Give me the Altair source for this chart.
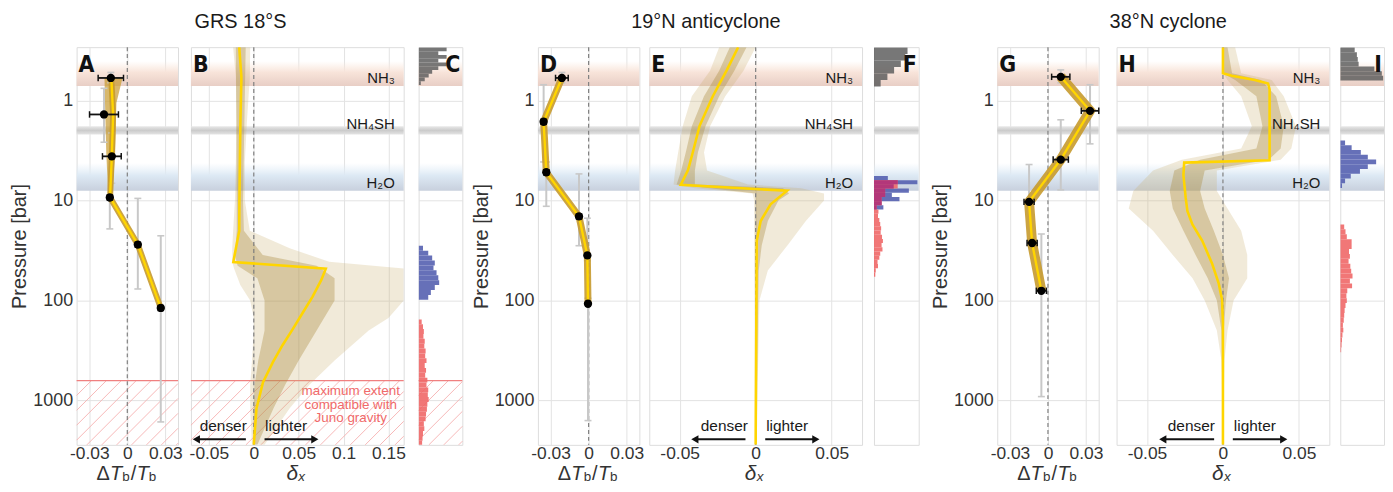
import altair as alt
import numpy as np
import pandas as pd

FONT = "Liberation Sans, Arial, Helvetica, sans-serif"
LETTER_FONT = "Liberation Sans Narrow, DejaVu Sans Condensed, Liberation Sans, sans-serif"

# ------------------------------------------------------------------ data
P_DOMAIN = [0.29, 2800]
P_TICKS = [1, 10, 100, 1000]

cloud_names = ["NH₃", "NH₄SH", "H₂O"]
cloud_top = [0.40, 1.80, 4.2]
cloud_bot = [0.71, 2.18, 7.95]
cloud_label_p = [0.59, 1.72, 6.6]

gravity_limit_p = 635
gravity_text = ["maximum extent", "compatible with", "Juno gravity"]
gravity_text_p = [889, 1222, 1664]
gravity_text_x = 0.108

arrow_words = ["denser", "lighter"]
arrow_text_p = 2030
arrow_p = 2467

group_titles = ["GRS 18°S", "19°N anticyclone", "38°N cyclone"]

# --- GRS 18°S
grs_tb_p = [0.59, 1.37, 3.6, 9.3, 27.6, 119]
grs_tb = [-0.013, -0.0184, -0.0122, -0.0138, 0.0083, 0.0264]
grs_tb_err = [0.010, 0.0114, 0.0074, 0.002, 0.002, 0.002]
grs_tb_plo = [0.52, 0.75, 2.1, 9.5, 9.5, 22.5]
grs_tb_phi = [0.66, 2.6, 6.7, 19.2, 76.8, 1650]
grs_fit_p = [0.59, 1.37, 3.6, 9.3, 27.6, 119]
grs_fit = [-0.0126, -0.0112, -0.0122, -0.0136, 0.0083, 0.0264]
grs_fit_env_p = [0.59, 1.05, 3.3, 8.1, 9.3]
grs_fit_env_lo = [-0.018, -0.0176, -0.0166, -0.0152, -0.0150]
grs_fit_env_hi = [-0.0038, -0.0086, -0.0096, -0.0118, -0.0122]

grs_dx_p = [0.29, 0.58, 1.65, 4.1, 10.1, 20.1, 41.2, 48.0, 62.7, 91.5, 130, 194, 281, 416, 660, 1210, 2800]
grs_dx = [-0.0162, -0.0138, -0.0149, -0.0155, -0.016, -0.0162, -0.0228, 0.0802, 0.0751, 0.0655,
          0.0552, 0.0434, 0.032, 0.0213, 0.0103, 0.003, 0.0]
grs_env_p = [0.29, 0.58, 1.65, 4.1, 10, 20, 30, 41, 48, 70, 100, 150, 200, 400, 700, 1200, 2800]
grs_env_lo = [-0.023, -0.020, -0.019, -0.020, -0.021, -0.023, -0.024, -0.024, -0.022, -0.015,
              -0.004, 0.0, 0.0, -0.002, -0.004, -0.004, -0.002]
grs_env_hi = [-0.004, -0.0044, -0.0077, -0.010, -0.010, -0.0044, 0.040, 0.084, 0.167, 0.167,
              0.167, 0.150, 0.128, 0.090, 0.062, 0.040, 0.012]
grs_core_p = [0.29, 10, 20, 35, 45, 60, 100, 200, 400, 700, 1200, 2800]
grs_core_lo = [-0.020, -0.019, -0.019, -0.021, -0.018, 0.004, 0.012, 0.012, 0.005, 0.001, 0.0, 0.0]
grs_core_hi = [-0.009, -0.012, -0.011, 0.010, 0.070, 0.090, 0.090, 0.070, 0.050, 0.035, 0.022, 0.004]

grs_gray_range = [0.293, 0.695]
grs_gray = [0.64, 0.45, 0.64, 0.45, 0.64, 0.45, 0.31, 0.23, 0.14, 0.05]
grs_blue_range = [28.3, 98.7]
grs_blue = [0.10, 0.22, 0.31, 0.37, 0.34, 0.41, 0.45, 0.47, 0.37, 0.28, 0.22]
grs_red_range = [155, 2851]
grs_red = [0.07, 0.10, 0.12, 0.11, 0.14, 0.13, 0.16, 0.15, 0.18, 0.14, 0.17, 0.15, 0.20,
           0.18, 0.22, 0.21, 0.23, 0.20, 0.19, 0.17, 0.16, 0.12, 0.13, 0.10, 0.09, 0.08]

# --- 19°N anticyclone
an_tb_p = [0.59, 1.62, 5.2, 14.4, 35.4, 108]
an_tb = [-0.0211, -0.0355, -0.0334, -0.0076, -0.001, -0.0005]
an_tb_err = [0.005, 0.002, 0.002, 0.002, 0.0015, 0.0015]
an_tb_plo = [0.52, 0.69, 4.1, 5.4, 15, 95]
an_tb_phi = [0.66, 4.1, 11.4, 28.3, 40, 1600]
an_fit_p = [0.59, 1.62, 5.2, 14.4, 35.4, 108]
an_fit = [-0.0211, -0.0355, -0.0334, -0.0076, -0.001, -0.0005]

an_dx_p = [0.29, 0.49, 0.90, 1.78, 3.26, 4.95, 6.95, 7.96, 10.9, 16.0, 25.3, 2800]
an_dx = [-0.0115, -0.0189, -0.0282, -0.0369, -0.0413, -0.0445, -0.0493, 0.0207, 0.0098, 0.0033, 0.0007, 0.0]
an_env_p = [0.29, 0.5, 0.9, 1.8, 3.3, 5.0, 6.9, 7.5, 8.5, 10, 16, 28, 50, 100, 2800]
an_env_lo = [-0.024, -0.030, -0.042, -0.048, -0.051, -0.053, -0.054, -0.040, -0.002, -0.001,
             -0.001, -0.001, -0.001, -0.0008, -0.0005]
an_env_hi = [0.0, -0.008, -0.020, -0.030, -0.034, -0.032, -0.005, 0.030, 0.045, 0.045, 0.033,
             0.021, 0.008, 0.0025, 0.0005]
an_core_p = [0.29, 0.5, 0.9, 1.8, 3.3, 5.0, 6.9, 7.5, 8.5, 10, 16, 28, 50, 2800]
an_core_lo = [-0.017, -0.024, -0.034, -0.042, -0.046, -0.049, -0.052, -0.030, 0.0, 0.0, 0.0, 0.0, 0.0, 0.0]
an_core_hi = [-0.006, -0.014, -0.024, -0.033, -0.038, -0.040, -0.040, 0.018, 0.022, 0.015, 0.008,
              0.004, 0.002, 0.0003]

an_gray_range = [0.293, 0.72]
an_gray = [0.75, 0.70, 0.60, 0.45, 0.30, 0.15]
an_grid_range = [5.66, 57.8]
an_blue = [0.31, 0.97, 0.44, 0.78, 0.40, 0.57, 0.17, 0.21, 0, 0, 0, 0, 0, 0, 0, 0, 0, 0, 0, 0, 0, 0, 0, 0]
an_red = [0, 0.53, 0.53, 0.25, 0.25, 0.17, 0.17, 0.06, 0.10, 0.09, 0.12, 0.14, 0.16, 0.15, 0.18,
          0.20, 0.17, 0.19, 0.14, 0.12, 0.08, 0.09, 0.04, 0.03]

# --- 38°N cyclone
cy_tb_p = [0.575, 1.26, 3.88, 10.3, 26.6, 80.1]
cy_tb = [0.0101, 0.0332, 0.0101, -0.0149, -0.0125, -0.0052]
cy_tb_err = [0.0072, 0.0069, 0.006, 0.004, 0.004, 0.004]
cy_tb_plo = [0.49, 0.69, 1.55, 4.35, 24, 21.6]
cy_tb_phi = [0.66, 2.7, 7.8, 10.1, 29, 920]
cy_fit_p = [0.575, 1.26, 3.88, 10.3, 26.6, 80.1]
cy_fit = [0.0101, 0.0332, 0.0101, -0.0149, -0.0125, -0.0052]

cy_dx_p = [0.29, 0.53, 0.56, 0.62, 0.67, 0.77, 3.94, 4.16, 5.55, 9.4, 12.7, 17.3, 25.3, 42.9, 67.6, 98.5, 168, 2800]
cy_dx = [0.0, 0.0, 0.0058, 0.021, 0.0297, 0.0307, 0.0307, -0.0255, -0.026, -0.0245, -0.0234,
         -0.0201, -0.0136, -0.0071, -0.0028, -0.0006, 0.0, 0.0]
cy_env_p = [0.29, 0.53, 0.62, 0.9, 1.8, 3.0, 3.9, 5, 8, 12, 20, 35, 60, 100, 200, 400, 2800]
cy_env_lo = [0.0, 0.0, 0.003, 0.012, 0.019, 0.012, -0.027, -0.046, -0.059, -0.062, -0.046, -0.033,
             -0.020, -0.012, -0.004, -0.001, 0.0]
cy_env_hi = [0.008, 0.012, 0.032, 0.040, 0.048, 0.045, 0.038, -0.004, -0.004, 0.003, 0.012, 0.016,
             0.016, 0.007, 0.003, 0.001, 0.0]
cy_core_p = [0.29, 0.53, 0.62, 0.9, 1.8, 3.0, 3.9, 5, 8, 12, 20, 35, 60, 100, 200, 2800]
cy_core_lo = [0.0, 0.0, 0.008, 0.022, 0.026, 0.022, -0.015, -0.032, -0.035, -0.033, -0.026, -0.018,
              -0.010, -0.004, -0.001, 0.0]
cy_core_hi = [0.003, 0.006, 0.025, 0.035, 0.040, 0.038, 0.030, -0.012, -0.015, -0.012, -0.006, 0.0,
              0.004, 0.002, 0.0005, 0.0]

cy_gray_range = [0.293, 0.627]
cy_gray = [0.33, 0.38, 0.40, 0.42, 0.78, 0.95, 0.98]
cy_blue_range = [2.50, 7.48]
cy_blue = [0.11, 0.26, 0.47, 0.63, 0.82, 0.63, 0.45, 0.24, 0.11, 0.04]
cy_red_range = [17.3, 331]
cy_red = [0.09, 0.12, 0.15, 0.26, 0.26, 0.20, 0.22, 0.19, 0.23, 0.25, 0.28, 0.22, 0.27, 0.16,
          0.14, 0.15, 0.12, 0.10, 0.09, 0.08, 0.06, 0.07, 0.05, 0.04, 0.03, 0.02]

# ------------------------------------------------------------------ style
H = 400
W_TB, W_DX = 102, 214
GRID = "#e3e3e3"
YELLOW = "#ffd500"
GOLD = "#c79a2e"
HATCH_STEP = 15
XTITLE_DY = 35        # x-axis title baseline below plot bottom (px)
Y_SCALE = alt.Scale(type="log", domain=P_DOMAIN, reverse=True, nice=False)

BAND_FILLS = [
    alt.LinearGradient(gradient="linear", x1=0, x2=0, y1=0, y2=1, stops=[
        alt.GradientStop(color="rgba(250,232,220,0)", offset=0),
        alt.GradientStop(color="#f8e4da", offset=0.45),
        alt.GradientStop(color="#e8cec5", offset=1)]),
    alt.LinearGradient(gradient="linear", x1=0, x2=0, y1=0, y2=1, stops=[
        alt.GradientStop(color="#e8e8e8", offset=0),
        alt.GradientStop(color="#cbcbcb", offset=0.5),
        alt.GradientStop(color="#e5e5e5", offset=1)]),
    alt.LinearGradient(gradient="linear", x1=0, x2=0, y1=0, y2=1, stops=[
        alt.GradientStop(color="rgba(226,238,248,0)", offset=0),
        alt.GradientStop(color="#dde9f4", offset=0.45),
        alt.GradientStop(color="#c8d0dd", offset=1)]),
]

LABEL_EXPR = ("datum.value == 0 ? '0' : (datum.value < 0 ? '-' : '') + "
              "format(abs(datum.value), '~g')")


def y_axis(left):
    if left:
        return alt.Axis(values=P_TICKS, format="d", title="Pressure [bar]", grid=True, gridColor=GRID,
                        ticks=False, domain=False, labelFontSize=18, labelFont=FONT, labelColor="#333",
                        labelPadding=4, titleFontSize=20, titleFont=FONT, titleFontWeight="normal",
                        titleColor="#333", titlePadding=3)
    return alt.Axis(values=P_TICKS, labels=False, ticks=False, domain=False, title=None,
                    grid=True, gridColor=GRID)


def x_axis(values):
    return alt.Axis(values=values, grid=True, gridColor=GRID, ticks=False, domain=False, title=None,
                    labelExpr=LABEL_EXPR, labelFontSize=17.5, labelFont=FONT, labelColor="#333",
                    labelPadding=0, labelFlush=False, labelOverlap=False)


class Panel:
    def __init__(self, xdom, width, xaxis, left):
        self.xdom = xdom
        self.width = width
        self.xs = alt.Scale(domain=xdom, nice=False, zero=False)
        self.xax = xaxis
        self.yax = y_axis(left)
        self.layers = []

    def X(self, f):
        return alt.X(f"{f}:Q", scale=self.xs, axis=self.xax)

    def Y(self, f):
        return alt.Y(f"{f}:Q", scale=Y_SCALE, axis=self.yax)

    def add(self, ch):
        self.layers.append(ch)

    def chart(self):
        return alt.layer(*self.layers).properties(width=self.width, height=H)


def add_bands(P):
    for i in range(3):
        df = pd.DataFrame({"x0": [P.xdom[0]], "x1": [P.xdom[1]], "t": [cloud_top[i]], "b": [cloud_bot[i]]})
        P.add(alt.Chart(df).mark_rect(fill=BAND_FILLS[i]).encode(
            x=P.X("x0"), x2="x1", y=P.Y("t"), y2="b"))


def add_band_labels(P):
    df = pd.DataFrame({"x": [P.xdom[1]] * 3, "p": cloud_label_p, "t": cloud_names})
    P.add(alt.Chart(df).mark_text(align="right", baseline="middle", dx=-9, fontSize=15, font=FONT,
                                  color="#1a1a1a").encode(x=P.X("x"), y=P.Y("p"), text="t:N"))


def add_hatch(P):
    # 45-degree hatch texture, segments cut to the panel so nothing spills outside
    ppx = P.width / (P.xdom[1] - P.xdom[0])
    ppd = H / np.log10(P_DOMAIN[1] / P_DOMAIN[0])
    hh = np.log10(P_DOMAIN[1] / gravity_limit_p) * ppd
    starts = np.arange(-hh, P.width, HATCH_STEP)
    t0 = np.maximum(0.0, -starts)
    t1 = np.minimum(hh, P.width - starts)
    keep = t1 > t0 + 0.5
    starts, t0, t1 = starts[keep], t0[keep], t1[keep]
    df = pd.DataFrame({"xa": P.xdom[0] + (starts + t0) / ppx, "xb": P.xdom[0] + (starts + t1) / ppx,
                       "ya": P_DOMAIN[1] / 10 ** (t0 / ppd), "yb": P_DOMAIN[1] / 10 ** (t1 / ppd)})
    P.add(alt.Chart(df).mark_rule(color="#f6b0b0", strokeWidth=0.9).encode(
        x=P.X("xa"), x2="xb", y=P.Y("ya"), y2="yb"))
    P.add(alt.Chart(pd.DataFrame({"p": [gravity_limit_p]})).mark_rule(
        color="#f08080", strokeWidth=1.3).encode(y=P.Y("p")))


def add_zero(P):
    P.add(alt.Chart(pd.DataFrame({"x": [0.0]})).mark_rule(
        color="#808080", strokeDash=[4, 3], strokeWidth=1.2).encode(x=P.X("x")))


def add_letter(P, letter, right=False):
    x = P.xdom[1] if right else P.xdom[0]
    df = pd.DataFrame({"x": [x], "p": [0.517], "t": [letter]})
    P.add(alt.Chart(df).mark_text(align="right" if right else "left", baseline="alphabetic",
                                  dx=-2 if right else 2, fontSize=23, fontWeight="bold",
                                  font=LETTER_FONT, color="#111").encode(
        x=P.X("x"), y=P.Y("p"), text="t:N"))


def add_text_piece(P, x, txt, dx, size, dy=0, italic=False):
    df = pd.DataFrame({"x": [x], "t": [txt]})
    P.add(alt.Chart(df).mark_text(align="left", baseline="alphabetic", dx=dx, dy=dy, fontSize=size,
                                  font=FONT, fontStyle="italic" if italic else "normal",
                                  color="#333").encode(
        x=P.X("x"), y=alt.value(H + XTITLE_DY), text="t:N"))


def hist_df(rng, widths):
    edges = np.logspace(np.log10(rng[0]), np.log10(rng[1]), len(widths) + 1)
    return pd.DataFrame({"t": edges[:-1], "b": edges[1:], "x0": 0.0, "w": widths})


def add_hist(P, rng, widths, color, opacity=0.9):
    df = hist_df(rng, widths)
    P.add(alt.Chart(df).mark_rect(clip=True, color=color, opacity=opacity).encode(
        x=P.X("x0"), x2="w", y=P.Y("t"), y2="b"))


def tb_panel(letter, pts_p, pts, err, plo, phi, fit_p, fit, band_w, env=None, hatch=False):
    P = Panel([-0.04, 0.04], W_TB, x_axis([-0.03, 0, 0.03]), left=True)
    add_bands(P)
    if hatch:
        add_hatch(P)
    if env is not None:
        edf = pd.DataFrame({"p": env[0], "lo": env[1], "hi": env[2]})
        P.add(alt.Chart(edf).mark_area(orient="horizontal", color=GOLD, opacity=0.7).encode(
            y=P.Y("p"), x=P.X("lo"), x2="hi"))
    add_zero(P)
    gdf = pd.DataFrame({"x": pts, "lo": plo, "hi": phi})
    P.add(alt.Chart(gdf).mark_rule(color="#c8c8c8", strokeWidth=2).encode(
        x=P.X("x"), y=P.Y("lo"), y2="hi"))
    for f in ["lo", "hi"]:
        P.add(alt.Chart(gdf).mark_point(shape="M-1,0L1,0", size=49, filled=False, color="#c8c8c8",
                                        strokeWidth=1.6, opacity=1).encode(x=P.X("x"), y=P.Y(f)))
    fdf = pd.DataFrame({"p": fit_p, "x": fit, "i": range(len(fit))})
    P.add(alt.Chart(fdf).mark_line(color=GOLD, strokeWidth=band_w, opacity=0.9).encode(
        x=P.X("x"), y=P.Y("p"), order="i:Q"))
    P.add(alt.Chart(fdf).mark_line(color=YELLOW, strokeWidth=2.4).encode(
        x=P.X("x"), y=P.Y("p"), order="i:Q"))
    edf2 = pd.DataFrame({"p": pts_p, "x": pts, "lo": np.array(pts) - np.array(err),
                         "hi": np.array(pts) + np.array(err)})
    P.add(alt.Chart(edf2).mark_rule(color="#111", strokeWidth=1.8).encode(
        x=P.X("lo"), x2="hi", y=P.Y("p")))
    for f in ["lo", "hi"]:
        P.add(alt.Chart(edf2).mark_point(shape="M0,-1L0,1", size=42, filled=False, color="#111",
                                         strokeWidth=1.5, opacity=1).encode(x=P.X(f), y=P.Y("p")))
    P.add(alt.Chart(edf2).mark_circle(size=70, color="#000", opacity=1).encode(x=P.X("x"), y=P.Y("p")))
    add_letter(P, letter)
    add_text_piece(P, 0.0, "Δ", -31, 20)
    add_text_piece(P, 0.0, "T", -17.5, 20, italic=True)
    add_text_piece(P, 0.0, "b", -5, 13.5, dy=1)
    add_text_piece(P, 0.0, "/", 3.5, 20)
    add_text_piece(P, 0.0, "T", 9.5, 20, italic=True)
    add_text_piece(P, 0.0, "b", 21.5, 13.5, dy=1)
    return P


def dx_panel(letter, xdom, ticks, line_p, line, env, core, arrows, hatch=False):
    P = Panel(xdom, W_DX, x_axis(ticks), left=False)
    add_bands(P)
    if hatch:
        add_hatch(P)
        tdf = pd.DataFrame({"x": [gravity_text_x] * 3, "p": gravity_text_p, "t": gravity_text})
        P.add(alt.Chart(tdf).mark_text(align="center", baseline="alphabetic", fontSize=13.5, font=FONT,
                                       color="#f06a6a").encode(x=P.X("x"), y=P.Y("p"), text="t:N"))
    edf = pd.DataFrame({"p": env[0], "lo": env[1], "hi": env[2]})
    P.add(alt.Chart(edf).mark_area(orient="horizontal", clip=True, color="#c9ae6e", opacity=0.26).encode(
        y=P.Y("p"), x=P.X("lo"), x2="hi"))
    cdf = pd.DataFrame({"p": core[0], "lo": core[1], "hi": core[2]})
    P.add(alt.Chart(cdf).mark_area(orient="horizontal", clip=True, color="#a88a3c", opacity=0.36).encode(
        y=P.Y("p"), x=P.X("lo"), x2="hi"))
    add_zero(P)
    ldf = pd.DataFrame({"p": line_p, "x": line, "i": range(len(line))})
    P.add(alt.Chart(ldf).mark_line(color=YELLOW, strokeWidth=2.6, clip=True).encode(
        x=P.X("x"), y=P.Y("p"), order="i:Q"))
    adf = pd.DataFrame({"x0": arrows[0], "x1": arrows[1], "p": [arrow_p] * 2,
                        "tx": arrows[2], "tp": [arrow_text_p] * 2, "t": arrow_words,
                        "shape": ["triangle-left", "triangle-right"]})
    P.add(alt.Chart(adf).mark_rule(color="#111", strokeWidth=2).encode(
        x=P.X("x0"), x2="x1", y=P.Y("p")))
    P.add(alt.Chart(adf).mark_point(filled=True, size=70, color="#111", opacity=1).encode(
        x=P.X("x1"), y=P.Y("p"),
        shape=alt.Shape("shape:N", scale=alt.Scale(domain=["triangle-left", "triangle-right"],
                                                   range=["triangle-left", "triangle-right"]),
                        legend=None)))
    P.add(alt.Chart(adf).mark_text(align="center", baseline="alphabetic", fontSize=15.5, font=FONT,
                                   color="#1a1a1a").encode(x=P.X("tx"), y=P.Y("tp"), text="t:N"))
    add_band_labels(P)
    add_letter(P, letter)
    mid = (xdom[0] + xdom[1]) / 2
    add_text_piece(P, mid, "δ", -11, 21, italic=True)
    add_text_piece(P, mid, "x", 1, 13.5, dy=1, italic=True)
    return P


def hist_panel(letter, width, gray, blue, red, hatch=False, overlap=None):
    P = Panel([0, 1], width, None, left=False)
    add_bands(P)
    if hatch:
        add_hatch(P)
    add_hist(P, gray[0], gray[1], "#5f5f5f", 0.85)
    add_hist(P, blue[0], blue[1], "#5560b0", 0.9)
    add_hist(P, red[0], red[1], "#f06868", 0.9)
    if overlap is not None:
        add_hist(P, overlap[0], overlap[1], "#b0357a", 0.95)
    add_letter(P, letter, right=True)
    return P


def group(title, title_dx, panels, spacings):
    a, b, c = [p.chart() for p in panels]
    inner = alt.hconcat(a, b, spacing=spacings[0])
    return alt.hconcat(inner, c, spacing=spacings[1]).properties(
        title=alt.TitleParams(title, fontSize=20, font=FONT, fontWeight="normal", anchor="middle",
                              color="#1a1a1a", offset=14, dx=title_dx))


g1 = group(group_titles[0], 4, [
    tb_panel("A", grs_tb_p, grs_tb, grs_tb_err, grs_tb_plo, grs_tb_phi, grs_fit_p, grs_fit, 6,
             env=(grs_fit_env_p, grs_fit_env_lo, grs_fit_env_hi), hatch=True),
    dx_panel("B", [-0.07, 0.167], [-0.05, 0, 0.05, 0.1, 0.15], grs_dx_p, grs_dx,
             (grs_env_p, grs_env_lo, grs_env_hi), (grs_core_p, grs_core_lo, grs_core_hi),
             ([-0.0088, 0.012], [-0.064, 0.068], [-0.034, 0.036]), hatch=True),
    hist_panel("C", 44, (grs_gray_range, grs_gray), (grs_blue_range, grs_blue),
               (grs_red_range, grs_red), hatch=True),
], (5, 10))

an_overlap = [min(b, r) for b, r in zip(an_blue, an_red)]
g2 = group(group_titles[1], 11, [
    tb_panel("D", an_tb_p, an_tb, an_tb_err, an_tb_plo, an_tb_phi, an_fit_p, an_fit, 7),
    dx_panel("E", [-0.07, 0.07], [-0.05, 0, 0.05], an_dx_p, an_dx,
             (an_env_p, an_env_lo, an_env_hi), (an_core_p, an_core_lo, an_core_hi),
             ([-0.0067, 0.0063], [-0.040, 0.0396], [-0.0206, 0.0207])),
    hist_panel("F", 45, (an_gray_range, an_gray), (an_grid_range, an_blue), (an_grid_range, an_red),
               overlap=(an_grid_range, an_overlap)),
], (4, 10))

g3 = group(group_titles[2], 11, [
    tb_panel("G", cy_tb_p, cy_tb, cy_tb_err, cy_tb_plo, cy_tb_phi, cy_fit_p, cy_fit, 10),
    dx_panel("H", [-0.07, 0.07], [-0.05, 0, 0.05], cy_dx_p, cy_dx,
             (cy_env_p, cy_env_lo, cy_env_hi), (cy_core_p, cy_core_lo, cy_core_hi),
             ([-0.0058, 0.0065], [-0.0396, 0.040], [-0.0208, 0.021])),
    hist_panel("I", 44, (cy_gray_range, cy_gray), (cy_blue_range, cy_blue), (cy_red_range, cy_red)),
], (5, 9))

chart = alt.hconcat(alt.hconcat(g1, g2, spacing=6), g3, spacing=10).properties(
    padding={"left": 1, "top": 2, "right": 0, "bottom": 0}
).configure_view(stroke="#555555", strokeWidth=1.4).configure(background="white")

chart.save("out.html", embed_options={"renderer": "svg", "actions": False})
